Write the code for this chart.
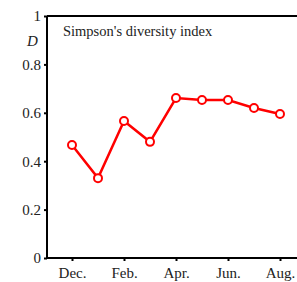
<!DOCTYPE html>
<html>
<head>
<meta charset="utf-8">
<script src="https://cdn.jsdelivr.net/npm/d3@7"></script>
<style>
	body { margin: 0; background: #fff; }
	text { font-family: 'Liberation Serif', 'Times New Roman', serif; }
</style>
</head>
<body>
<div id="chart"></div>
<script>
const months = ['Dec.', 'Jan.', 'Feb.', 'Mar.', 'Apr.', 'May', 'Jun.', 'Jul.', 'Aug.'];
const simpsonD = [0.467, 0.33, 0.566, 0.48, 0.661, 0.653, 0.653, 0.62, 0.595];
const tickMonths = ['Dec.', 'Feb.', 'Apr.', 'Jun.', 'Aug.'];
const yTicks = [0, 0.2, 0.4, 0.6, 0.8, 1];

const width = 297;
const height = 282;
const margin = { top: 16, right: 0, bottom: 24, left: 47 };

const svg = d3
	.select('#chart')
	.append('svg')
	.attr('width', width)
	.attr('height', height);

const xScale = d3
	.scalePoint()
	.domain(months)
	.range([72, 280]);

const yScale = d3
	.scaleLinear()
	.domain([0, 1])
	.range([height - margin.bottom, margin.top]);

const yAxis = d3
	.axisLeft(yScale)
	.tickValues(yTicks)
	.tickFormat(d => d === 0 || d === 1 ? d3.format('d')(d) : d3.format('.1f')(d))
	.tickSizeInner(3)
	.tickSizeOuter(0)
	.tickPadding(3);

const xAxis = d3
	.axisBottom(xScale)
	.tickValues(tickMonths)
	.tickSizeInner(3)
	.tickSizeOuter(0)
	.tickPadding(6);

const gx = svg
	.append('g')
	.attr('transform', `translate(0,${height - margin.bottom})`)
	.call(xAxis);

const gy = svg
	.append('g')
	.attr('transform', `translate(${margin.left},0)`)
	.call(yAxis);

// stretch the axis lines across the frame
gx.select('.domain').attr('d', `M${margin.left},0H${width}`);
gy.select('.domain').attr('d', `M0,${margin.top}V${height - margin.bottom}`);

[gx, gy].forEach(g => {
	g.attr('font-family', null);
	g.select('.domain').attr('stroke', '#000').attr('stroke-width', 2);
	g.selectAll('.tick line').attr('stroke', '#000').attr('stroke-width', 2);
	g.selectAll('.tick text')
		.attr('fill', '#222')
		.style('font-size', '15px')
		.style('font-family', "'Liberation Serif', serif");
});

// top frame line
svg
	.append('line')
	.attr('x1', margin.left)
	.attr('x2', width)
	.attr('y1', yScale(1))
	.attr('y2', yScale(1))
	.attr('stroke', '#000')
	.attr('stroke-width', 2);

svg
	.append('text')
	.attr('x', 63)
	.attr('y', 36)
	.attr('fill', '#222')
	.style('font-size', '14.5px')
	.text("Simpson's diversity index");

svg
	.append('text')
	.attr('x', 27)
	.attr('y', 46)
	.attr('fill', '#222')
	.style('font-size', '15px')
	.style('font-style', 'italic')
	.text('D');

const line = d3
	.line()
	.x((d, i) => xScale(months[i]))
	.y(d => yScale(d));

svg
	.append('path')
	.datum(simpsonD)
	.attr('fill', 'none')
	.attr('stroke', '#ff0000')
	.attr('stroke-width', 2.5)
	.attr('d', line);

svg
	.selectAll('circle')
	.data(simpsonD)
	.enter()
	.append('circle')
	.attr('cx', (d, i) => xScale(months[i]))
	.attr('cy', d => yScale(d))
	.attr('r', 4)
	.attr('fill', '#fff')
	.attr('stroke', '#ff0000')
	.attr('stroke-width', 2);
</script>
</body>
</html>
